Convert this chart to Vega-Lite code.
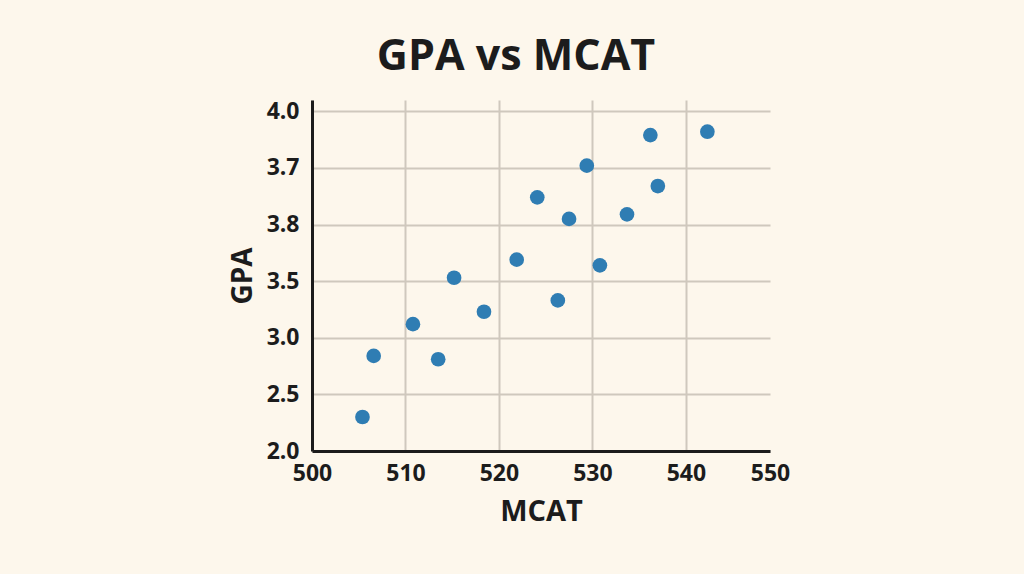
{
  "$schema": "https://vega.github.io/schema/vega-lite/v6.json",
  "autosize": "none",
  "width": 458,
  "height": 351,
  "padding": {"left": 312, "top": 100, "right": 254, "bottom": 123},
  "background": "#fdf7ec",
  "title": {
    "text": "GPA vs MCAT",
    "font": "Open Sans",
    "fontSize": 43,
    "fontWeight": 700,
    "color": "#1c1c1c",
    "anchor": "middle",
    "dx": -25,
    "offset": 21
  },
  "data": {
    "values": [
      {"MCAT": 505.4, "GPA": 2.30},
      {"MCAT": 506.6, "GPA": 2.84},
      {"MCAT": 510.8, "GPA": 3.12},
      {"MCAT": 513.5, "GPA": 2.81},
      {"MCAT": 515.2, "GPA": 3.53},
      {"MCAT": 518.4, "GPA": 3.23},
      {"MCAT": 521.9, "GPA": 3.69},
      {"MCAT": 524.1, "GPA": 4.24},
      {"MCAT": 526.3, "GPA": 3.33},
      {"MCAT": 527.5, "GPA": 4.05},
      {"MCAT": 529.4, "GPA": 4.52},
      {"MCAT": 530.8, "GPA": 3.64},
      {"MCAT": 533.7, "GPA": 4.09},
      {"MCAT": 536.2, "GPA": 4.79},
      {"MCAT": 537.0, "GPA": 4.34},
      {"MCAT": 542.3, "GPA": 4.82}
    ]
  },
  "mark": {"type": "circle", "size": 215, "color": "#2f7db3", "opacity": 1},
  "encoding": {
    "x": {
      "field": "MCAT",
      "type": "quantitative",
      "scale": {"domain": [500, 549], "nice": false, "zero": false},
      "axis": {
        "values": [500, 510, 520, 530, 540, 549],
        "labelExpr": "datum.value == 549 ? '550' : format(datum.value, 'd')",
        "title": "MCAT",
        "titleFont": "Open Sans",
        "titleFontSize": 29,
        "titleFontWeight": 700,
        "titleColor": "#1c1c1c",
        "titlePadding": 12,
        "labelFont": "Open Sans",
        "labelFontSize": 23,
        "labelFontWeight": 700,
        "labelColor": "#1c1c1c",
        "labelPadding": 11,
        "ticks": false,
        "domainColor": "#1c1c1c",
        "domainWidth": 3,
        "grid": true,
        "gridColor": "#cfc8bd",
        "gridWidth": 2,
        "gridOpacity": {"condition": {"test": "datum.value == 549", "value": 0}, "value": 1},
        "labelFlush": false
      }
    },
    "y": {
      "field": "GPA",
      "type": "quantitative",
      "scale": {"domain": [2, 5.1], "nice": false, "zero": false},
      "axis": {
        "values": [2, 2.5, 3, 3.5, 4, 4.5, 5],
        "labelExpr": "datum.value == 4 ? '3.8' : datum.value == 4.5 ? '3.7' : datum.value == 5 ? '4.0' : format(datum.value, '.1f')",
        "title": "GPA",
        "titleFont": "Open Sans",
        "titleFontSize": 28,
        "titleFontWeight": 700,
        "titleColor": "#1c1c1c",
        "titlePadding": 9,
        "labelFont": "Open Sans",
        "labelFontSize": 23,
        "labelFontWeight": 700,
        "labelColor": "#1c1c1c",
        "labelPadding": 13,
        "ticks": false,
        "domainColor": "#1c1c1c",
        "domainWidth": 3,
        "grid": true,
        "gridColor": "#cfc8bd",
        "gridWidth": 2
      }
    }
  },
  "config": {"view": {"stroke": null}}
}
